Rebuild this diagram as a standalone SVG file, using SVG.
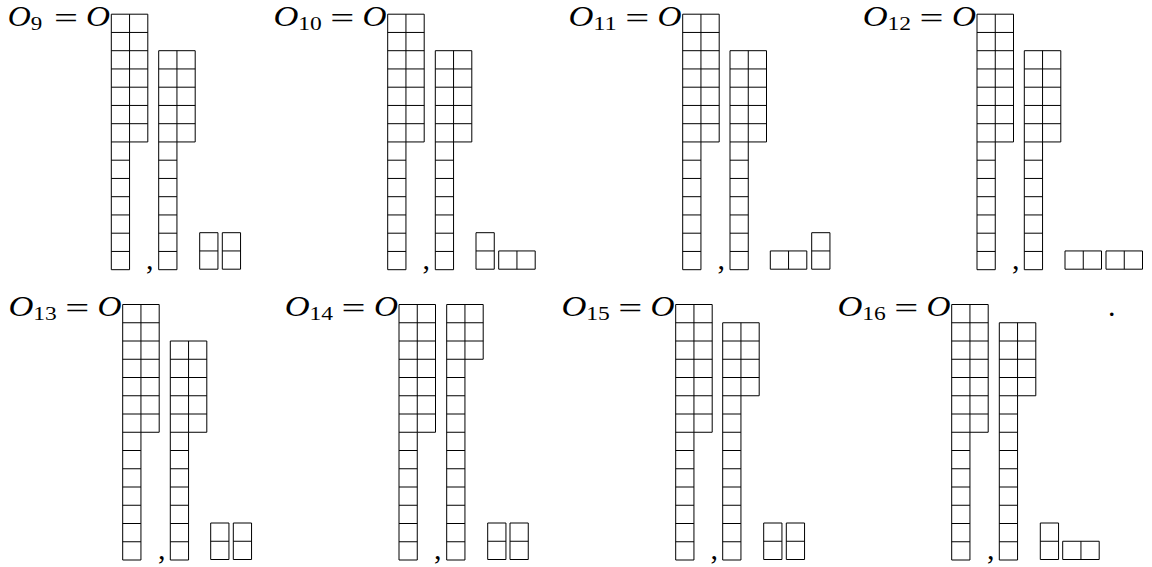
<svg xmlns="http://www.w3.org/2000/svg" width="1152" height="567" viewBox="0 0 1152 567">
<style>
.t{fill:none;stroke:#000;stroke-width:1;vector-effect:non-scaling-stroke}
.m{font-family:"Liberation Serif",serif;font-size:30px;fill:#000}
.i{font-style:italic}
.s{font-size:18px}
</style>
<defs>
<path id="big" class="t" d="M0 0H2V7H1V14H0Z M0 1H2M0 2H2M0 3H2M0 4H2M0 5H2M0 6H2M0 7H1M0 8H1M0 9H1M0 10H1M0 11H1M0 12H1M0 13H1M1 0V7"/>
<path id="s5" class="t" d="M0 0H2V5H1V12H0Z M0 1H2M0 2H2M0 3H2M0 4H2M0 5H1M0 6H1M0 7H1M0 8H1M0 9H1M0 10H1M0 11H1M1 0V5"/>
<path id="s3" class="t" d="M0 0H2V3H1V14H0Z M0 1H2M0 2H2M0 3H1M0 4H1M0 5H1M0 6H1M0 7H1M0 8H1M0 9H1M0 10H1M0 11H1M0 12H1M0 13H1M1 0V3"/>
<path id="s4" class="t" d="M0 0H2V4H1V13H0Z M0 1H2M0 2H2M0 3H2M0 4H1M0 5H1M0 6H1M0 7H1M0 8H1M0 9H1M0 10H1M0 11H1M0 12H1M1 0V4"/>
<path id="v" class="t" d="M0 0H1V2H0Z M0 1H1"/>
<path id="h" class="t" d="M0 0H2V1H0Z M1 0V1"/>
</defs>

<g id="O9">
<text class="m i" x="7.7" y="26.3" textLength="23" lengthAdjust="spacingAndGlyphs">O</text>
<text class="m s" x="30.7" y="29.5" textLength="11.5" lengthAdjust="spacingAndGlyphs">9</text>
<text class="m" x="54" y="27.8" textLength="24" lengthAdjust="spacingAndGlyphs">=</text>
<text class="m i" x="85.9" y="26.3" textLength="24" lengthAdjust="spacingAndGlyphs">O</text>
<use href="#big" transform="translate(111.3 14.2) scale(18.25)"/>
<text class="m" x="146" y="269">,</text>
<use href="#s5" transform="translate(158.7 50.7) scale(18.25)"/>
<use href="#v" transform="translate(199.7 232.7) scale(18.25)"/>
<use href="#v" transform="translate(222.3 232.7) scale(18.25)"/>
</g>

<g id="O10">
<text class="m i" x="273.4" y="26.3" textLength="24.9" lengthAdjust="spacingAndGlyphs">O</text>
<text class="m s" x="298.3" y="29.5" textLength="23.5" lengthAdjust="spacingAndGlyphs">10</text>
<text class="m" x="330.2" y="27.8" textLength="24" lengthAdjust="spacingAndGlyphs">=</text>
<text class="m i" x="362.6" y="26.3" textLength="24" lengthAdjust="spacingAndGlyphs">O</text>
<use href="#big" transform="translate(387.7 14.2) scale(18.25)"/>
<text class="m" x="422.5" y="269">,</text>
<use href="#s5" transform="translate(435.3 50.7) scale(18.25)"/>
<use href="#v" transform="translate(476 232.7) scale(18.25)"/>
<use href="#h" transform="translate(498.7 250.95) scale(18.25)"/>
</g>

<g id="O11">
<text class="m i" x="568.4" y="26.3" textLength="24.9" lengthAdjust="spacingAndGlyphs">O</text>
<text class="m s" x="593.3" y="29.5" textLength="23.5" lengthAdjust="spacingAndGlyphs">11</text>
<text class="m" x="625.2" y="27.8" textLength="24" lengthAdjust="spacingAndGlyphs">=</text>
<text class="m i" x="657.6" y="26.3" textLength="24" lengthAdjust="spacingAndGlyphs">O</text>
<use href="#big" transform="translate(682.7 14.2) scale(18.25)"/>
<text class="m" x="717.5" y="269">,</text>
<use href="#s5" transform="translate(730 50.7) scale(18.25)"/>
<use href="#h" transform="translate(770.3 250.95) scale(18.25)"/>
<use href="#v" transform="translate(811.7 232.7) scale(18.25)"/>
</g>

<g id="O12">
<text class="m i" x="862.7" y="26.3" textLength="24.9" lengthAdjust="spacingAndGlyphs">O</text>
<text class="m s" x="887.6" y="29.5" textLength="23.5" lengthAdjust="spacingAndGlyphs">12</text>
<text class="m" x="919.5" y="27.8" textLength="24" lengthAdjust="spacingAndGlyphs">=</text>
<text class="m i" x="951.9" y="26.3" textLength="24" lengthAdjust="spacingAndGlyphs">O</text>
<use href="#big" transform="translate(977 14.2) scale(18.25)"/>
<text class="m" x="1012" y="269">,</text>
<use href="#s5" transform="translate(1024.3 50.7) scale(18.25)"/>
<use href="#h" transform="translate(1065 250.95) scale(18.25)"/>
<use href="#h" transform="translate(1106 250.95) scale(18.25)"/>
</g>

<g id="O13">
<text class="m i" x="8.4" y="316.3" textLength="24.9" lengthAdjust="spacingAndGlyphs">O</text>
<text class="m s" x="33.3" y="320" textLength="23.5" lengthAdjust="spacingAndGlyphs">13</text>
<text class="m" x="65.2" y="318" textLength="24" lengthAdjust="spacingAndGlyphs">=</text>
<text class="m i" x="97.6" y="316.3" textLength="24" lengthAdjust="spacingAndGlyphs">O</text>
<use href="#big" transform="translate(122.7 304.5) scale(18.25)"/>
<text class="m" x="158" y="559">,</text>
<use href="#s5" transform="translate(170.3 341) scale(18.25)"/>
<use href="#v" transform="translate(210.7 523) scale(18.25)"/>
<use href="#v" transform="translate(233.3 523) scale(18.25)"/>
</g>

<g id="O14">
<text class="m i" x="284.7" y="316.3" textLength="24.9" lengthAdjust="spacingAndGlyphs">O</text>
<text class="m s" x="309.6" y="320" textLength="23.5" lengthAdjust="spacingAndGlyphs">14</text>
<text class="m" x="341.5" y="318" textLength="24" lengthAdjust="spacingAndGlyphs">=</text>
<text class="m i" x="373.9" y="316.3" textLength="24" lengthAdjust="spacingAndGlyphs">O</text>
<use href="#big" transform="translate(399 304.5) scale(18.25)"/>
<text class="m" x="434" y="559">,</text>
<use href="#s3" transform="translate(446.7 304.5) scale(18.25)"/>
<use href="#v" transform="translate(487.7 523) scale(18.25)"/>
<use href="#v" transform="translate(510 523) scale(18.25)"/>
</g>

<g id="O15">
<text class="m i" x="561.4" y="316.3" textLength="24.9" lengthAdjust="spacingAndGlyphs">O</text>
<text class="m s" x="586.3" y="320" textLength="23.5" lengthAdjust="spacingAndGlyphs">15</text>
<text class="m" x="618.2" y="318" textLength="24" lengthAdjust="spacingAndGlyphs">=</text>
<text class="m i" x="650.6" y="316.3" textLength="24" lengthAdjust="spacingAndGlyphs">O</text>
<use href="#big" transform="translate(675.7 304.5) scale(18.25)"/>
<text class="m" x="710.5" y="559">,</text>
<use href="#s4" transform="translate(722.7 322.75) scale(18.25)"/>
<use href="#v" transform="translate(763.7 523) scale(18.25)"/>
<use href="#v" transform="translate(786.3 523) scale(18.25)"/>
</g>

<g id="O16">
<text class="m i" x="837.4" y="316.3" textLength="24.9" lengthAdjust="spacingAndGlyphs">O</text>
<text class="m s" x="862.3" y="320" textLength="23.5" lengthAdjust="spacingAndGlyphs">16</text>
<text class="m" x="894.2" y="318" textLength="24" lengthAdjust="spacingAndGlyphs">=</text>
<text class="m i" x="926.6" y="316.3" textLength="24" lengthAdjust="spacingAndGlyphs">O</text>
<use href="#big" transform="translate(951.7 304.5) scale(18.25)"/>
<text class="m" x="987" y="559">,</text>
<use href="#s4" transform="translate(999.3 322.75) scale(18.25)"/>
<use href="#v" transform="translate(1040.3 523) scale(18.25)"/>
<use href="#h" transform="translate(1062.7 541.25) scale(18.25)"/>
<text class="m" x="1108" y="316">.</text>
</g>
</svg>
